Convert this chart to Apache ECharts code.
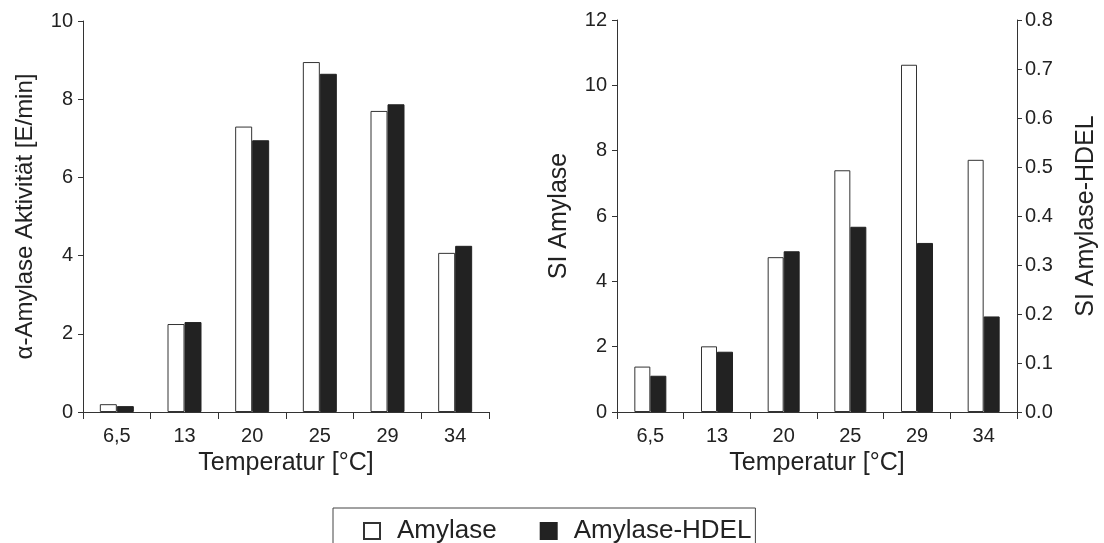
<!DOCTYPE html>
<html>
<head>
<meta charset="utf-8">
<script src="https://cdn.jsdelivr.net/npm/echarts@6/dist/echarts.min.js"></script>
<style>
  html, body { margin: 0; padding: 0; background: #fff; }
  #chart { width: 1104px; height: 543px; }
</style>
</head>
<body>
<div id="chart"></div>
<script>
const temperatures = ['6,5', '13', '20', '25', '29', '34'];

// left panel: alpha-amylase activity [E/min]
const activityAmylase = [0.2, 2.25, 7.3, 8.95, 7.7, 4.07];
const activityHdel = [0.15, 2.3, 6.95, 8.65, 7.87, 4.25];

// right panel: secretion index
const siAmylase = [1.39, 2.01, 4.74, 7.4, 10.63, 7.72];
const siHdel = [0.074, 0.123, 0.328, 0.378, 0.345, 0.195];

const font = 'Liberation Sans, Arial, sans-serif';
const ink = '#222';

const axisLine = { show: true, lineStyle: { color: '#333', width: 1 } };
const tickLabel = { color: ink, fontSize: 20, fontFamily: font };
const nameText = { color: ink, fontSize: 25, fontFamily: font };

const whiteBar = { color: '#fff', borderColor: '#333', borderWidth: 1 };
const blackBar = { color: '#222', borderColor: '#222', borderWidth: 1 };

function xAxisFor(gridIndex) {
  return {
    type: 'category',
    gridIndex,
    data: temperatures,
    name: 'Temperatur [°C]',
    nameLocation: 'middle',
    nameGap: 37,
    nameTextStyle: nameText,
    axisLine,
    axisTick: { show: true, length: 7, lineStyle: { color: '#333' } },
    axisLabel: { ...tickLabel, margin: 14 },
    splitLine: { show: false }
  };
}

const chart = echarts.init(document.getElementById('chart'), null, { renderer: 'canvas' });

chart.setOption({
  animation: false,
  backgroundColor: '#fff',
  textStyle: { fontFamily: font },
  legend: {
    data: ['Amylase', 'Amylase-HDEL'],
    left: 333,
    top: 508,
    orient: 'horizontal',
    padding: [10, 4, 20, 30],
    itemWidth: 16,
    itemHeight: 16,
    itemGap: 43,
    borderColor: '#444',
    borderWidth: 1,
    borderRadius: 0,
    icon: 'rect',
    textStyle: { color: ink, fontSize: 26, fontFamily: font, padding: [0, 0, 0, 12] }
  },
  grid: [
    { left: 83, top: 21, width: 406, height: 391 },
    { left: 617, top: 20, width: 400, height: 392 }
  ],
  xAxis: [xAxisFor(0), xAxisFor(1)],
  yAxis: [
    {
      type: 'value',
      gridIndex: 0,
      min: 0, max: 10, interval: 2,
      name: 'α-Amylase Aktivität [E/min]',
      nameLocation: 'middle',
      nameGap: 46,
      nameTextStyle: { ...nameText, fontSize: 24 },
      axisLine,
      axisTick: { show: true, length: 5 },
      axisLabel: { ...tickLabel, margin: 10 },
      splitLine: { show: false }
    },
    {
      type: 'value',
      gridIndex: 1,
      min: 0, max: 12, interval: 2,
      name: 'SI Amylase',
      nameLocation: 'middle',
      nameGap: 45,
      nameTextStyle: nameText,
      axisLine,
      axisTick: { show: true, length: 5 },
      axisLabel: { ...tickLabel, margin: 10 },
      splitLine: { show: false }
    },
    {
      type: 'value',
      gridIndex: 1,
      position: 'right',
      min: 0, max: 0.8, interval: 0.1,
      name: 'SI Amylase-HDEL',
      nameLocation: 'middle',
      nameRotate: 90,
      nameGap: 57,
      nameTextStyle: nameText,
      axisLine,
      axisTick: { show: true, length: 5 },
      axisLabel: { ...tickLabel, margin: 8, formatter: (v) => v.toFixed(1) },
      splitLine: { show: false }
    }
  ],
  series: [
    {
      name: 'Amylase', type: 'bar', xAxisIndex: 0, yAxisIndex: 0,
      data: activityAmylase, barWidth: 17, barGap: '0%', itemStyle: whiteBar
    },
    {
      name: 'Amylase-HDEL', type: 'bar', xAxisIndex: 0, yAxisIndex: 0,
      data: activityHdel, barWidth: 17, barGap: '0%', itemStyle: blackBar
    },
    {
      name: 'Amylase', type: 'bar', xAxisIndex: 1, yAxisIndex: 1,
      data: siAmylase, barWidth: 16, barGap: '0%', itemStyle: whiteBar
    },
    {
      name: 'Amylase-HDEL', type: 'bar', xAxisIndex: 1, yAxisIndex: 2,
      data: siHdel, barWidth: 16, barGap: '0%', itemStyle: blackBar
    }
  ]
});
</script>
</body>
</html>
